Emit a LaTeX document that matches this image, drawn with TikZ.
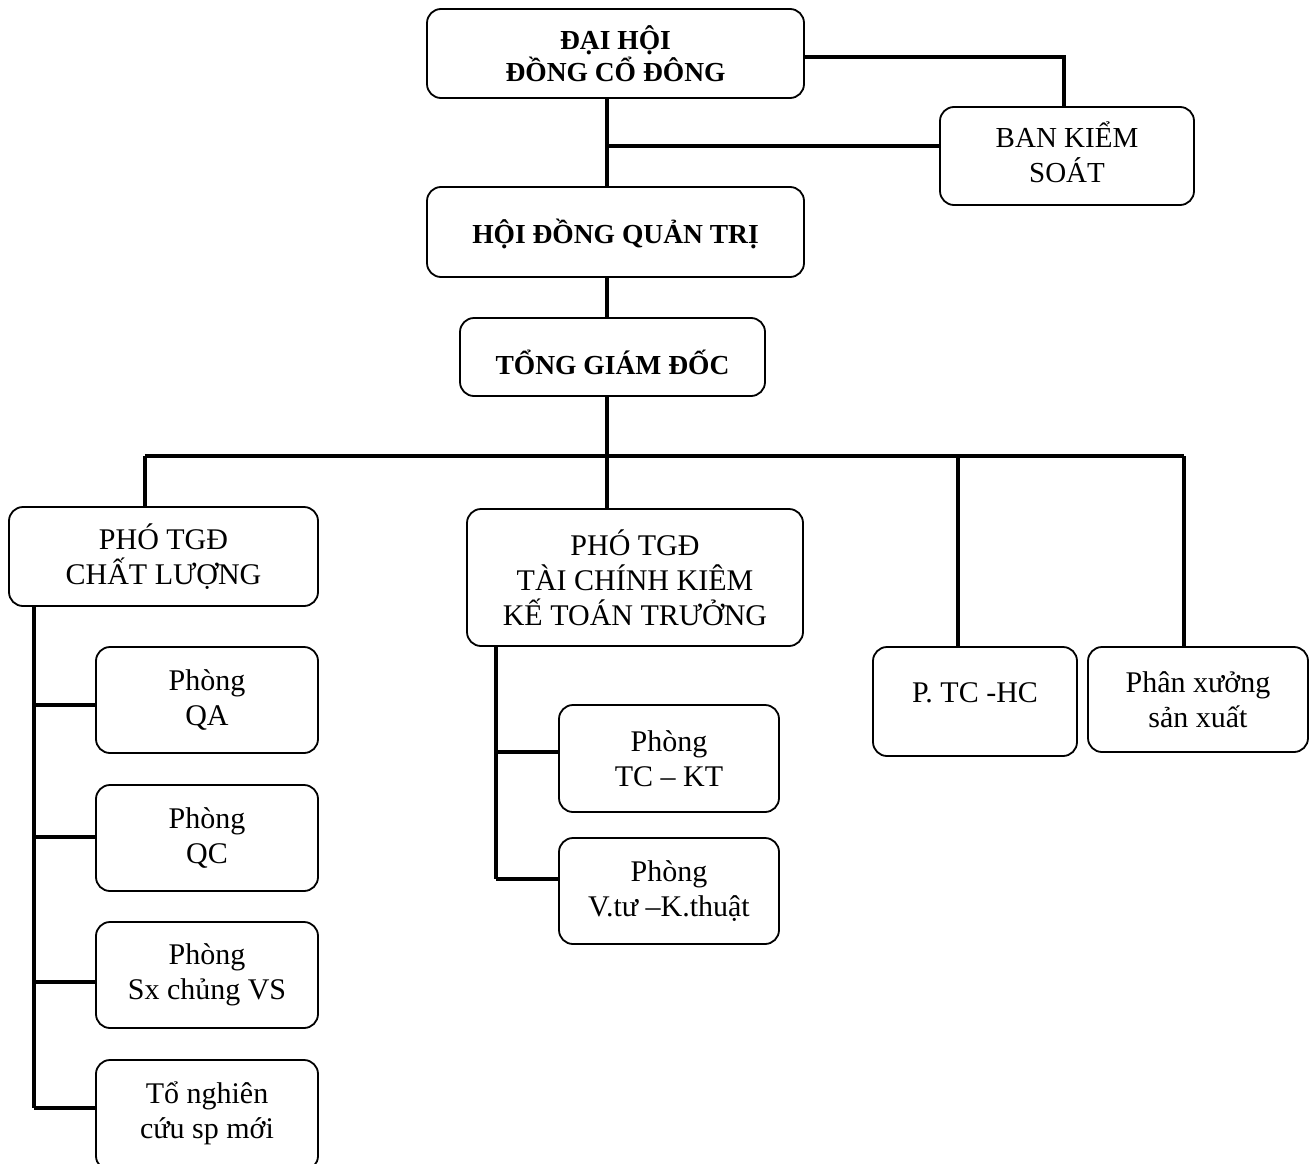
\documentclass[tikz,border=0pt]{standalone}
\usepackage{fontspec}
\setmainfont{Liberation Serif}
\newcommand{\upby}[2]{\raisebox{#1}[\height][\depth]{\begin{tabular}{@{}c@{}}#2\end{tabular}}}
\begin{document}
\begin{tikzpicture}[x=1pt,y=-1pt,
  box/.style={draw, rounded corners=14pt, line width=1.8pt, inner sep=0pt, outer sep=0pt, align=center, fill=white},
  reg/.style={font=\fontsize{30}{35}\selectfont},
  bld/.style={font=\fontsize{27.5}{32}\selectfont\bfseries},
  conn/.style={line width=3.2pt}]
\fill[white] (0,0) rectangle (1314,1164);
\useasboundingbox (0,0) rectangle (1314,1164);
% boxes
\node[box,bld,minimum width=377pt,minimum height=89pt] (dh) at (615.5,53.5) {ĐẠI HỘI\\ĐỒNG CỔ ĐÔNG};
\node[box,reg,font=\fontsize{29}{34}\selectfont,minimum width=254pt,minimum height=98pt] (bk) at (1067,156) {\upby{-1pt}{BAN KIỂM\\SOÁT}};
\node[box,bld,minimum width=377pt,minimum height=90pt] (hd) at (615.5,232) {\upby{-4pt}{HỘI ĐỒNG QUẢN TRỊ}};
\node[box,bld,minimum width=305pt,minimum height=78pt] (tg) at (612.5,357) {\upby{-10pt}{TỔNG GIÁM ĐỐC}};
\node[box,reg,minimum width=309pt,minimum height=99pt] (p1) at (163.5,556.5) {PHÓ TGĐ\\CHẤT LƯỢNG};
\node[box,reg,minimum width=336pt,minimum height=137pt] (p2) at (635,577.5) {PHÓ TGĐ\\TÀI CHÍNH KIÊM\\KẾ TOÁN TRƯỞNG};
\node[box,reg,minimum width=204pt,minimum height=109pt] (p3) at (975,701.5) {\upby{6pt}{P. TC -HC}};
\node[box,reg,minimum width=220pt,minimum height=105pt] (p4) at (1198,699.5) {Phân xưởng\\sản xuất};
\node[box,reg,minimum width=222pt,minimum height=106pt] (qa) at (207,700) {Phòng\\QA};
\node[box,reg,minimum width=222pt,minimum height=106pt] (qc) at (207,838) {Phòng\\QC};
\node[box,reg,minimum width=222pt,minimum height=106pt] (sx) at (207,975) {Phòng\\Sx chủng VS};
\node[box,reg,minimum width=222pt,minimum height=110pt] (to) at (207,1115) {\upby{1pt}{Tổ nghiên\\cứu sp mới}};
\node[box,reg,minimum width=220pt,minimum height=107pt] (tk) at (669,758.5) {Phòng\\TC -- KT};
\node[box,reg,minimum width=220pt,minimum height=106pt] (vt) at (669,891) {Phòng\\V.tư --K.thuật};
% junction coordinates
\coordinate (spine) at (607,0);
\coordinate (j1) at (607,146);
\coordinate (d1) at (145,456);
\coordinate (d2) at (607,456);
\coordinate (d3) at (958,456);
\coordinate (d4) at (1184,456);
\coordinate (ls) at (34,0);
\coordinate (b1) at (34,705);
\coordinate (b2) at (34,837);
\coordinate (b3) at (34,982);
\coordinate (b4) at (34,1108);
\coordinate (ms) at (496,0);
\coordinate (b5) at (496,752);
\coordinate (b6) at (496,879);
% connectors
\draw[conn] (dh.south -| spine) -- (hd.north -| spine);
\draw[conn] (dh.east |- 0,57) -| (bk.north -| 1064,0);
\draw[conn] (j1) -- (j1 -| bk.west);
\draw[conn] (hd.south -| spine) -- (tg.north -| spine);
\draw[conn] (tg.south -| spine) -- (d2);
\draw[conn] (d1) -- (d4);
\draw[conn] (d1) -- (d1 |- p1.north);
\draw[conn] (d2) -- (d2 |- p2.north);
\draw[conn] (d3) -- (d3 |- p3.north);
\draw[conn] (d4) -- (d4 |- p4.north);
\draw[conn] (ls |- p1.south) -- (b4);
\draw[conn] (b1) -- (b1 -| qa.west);
\draw[conn] (b2) -- (b2 -| qc.west);
\draw[conn] (b3) -- (b3 -| sx.west);
\draw[conn] (b4) -- (b4 -| to.west);
\draw[conn] (ms |- p2.south) -- (b6);
\draw[conn] (b5) -- (b5 -| tk.west);
\draw[conn] (b6) -- (b6 -| vt.west);
\end{tikzpicture}
\end{document}
